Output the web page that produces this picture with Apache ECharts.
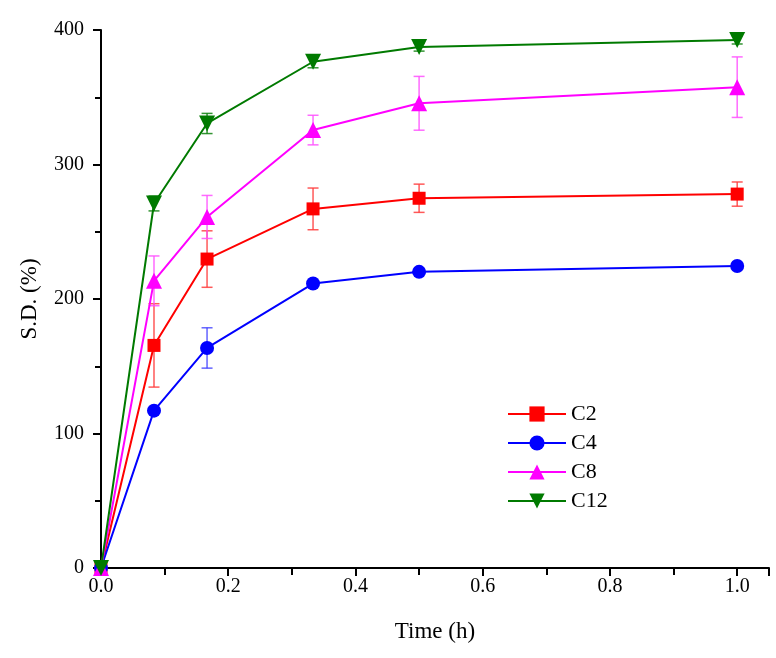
<!DOCTYPE html>
<html><head><meta charset="utf-8">
<script src="https://cdn.jsdelivr.net/npm/echarts@6/dist/echarts.min.js"></script>
<style>html,body{margin:0;padding:0;background:#fff}#c{width:776px;height:658px}</style>
</head><body><div id="c"></div>
<script>
const times = [0, 0.0833, 0.1667, 0.3333, 0.5, 1.0];
const seriesNames = ['C2', 'C4', 'C8', 'C12'];
const c2 = [0, 165.5, 229.7, 267.0, 274.9, 278.0];
const c4 = [0, 117.0, 163.6, 211.5, 220.2, 224.5];
const c8 = [0, 213.5, 261.0, 325.6, 345.5, 357.5];
const c12 = [0, 271.0, 330.5, 376.4, 387.3, 392.6];
const c2Err = [0, 31, 21, 15.5, 10.5, 9];
const c4Err = [0, 0, 15, 0, 0, 0];
const c8Err = [0, 18.5, 16, 11, 20, 22.5];
const c12Err = [0, 5.5, 7.5, 4.5, 3, 3];
const xTicks = [0, 0.2, 0.4, 0.6, 0.8, 1.0];
const yTicks = [0, 100, 200, 300, 400];

const colors = ['#ff0000', '#0000ff', '#ff00ff', '#007a00'];
const errColors = ['rgba(255,60,60,0.85)', 'rgba(60,60,255,0.8)', 'rgba(255,80,255,0.85)', 'rgba(0,122,0,0.8)'];
const symbols = ['rect', 'circle', 'triangle', 'triangle'];
const symSizes = [13, 14, 16, 16];
const rotations = [0, 0, 0, 180];
const vals = [c2, c4, c8, c12];
const errs = [c2Err, c4Err, c8Err, c12Err];
const font = '"Liberation Serif", "Times New Roman", serif';

const series = [];
vals.forEach((v, i) => {
  series.push({
    type: 'custom',
    name: seriesNames[i] + '_err',
    silent: true,
    z: 1,
    data: times.map((t, k) => [t, v[k], errs[i][k]]).filter(d => d[2] > 0),
    renderItem: function (params, api) {
      const x = api.value(0), y = api.value(1), e = api.value(2);
      const top = api.coord([x, y + e]);
      const bot = api.coord([x, y - e]);
      const w = 5.5;
      const st = { stroke: errColors[i], lineWidth: 1.5 };
      return {
        type: 'group',
        children: [
          { type: 'line', shape: { x1: top[0], y1: top[1], x2: bot[0], y2: bot[1] }, style: st },
          { type: 'line', shape: { x1: top[0] - w, y1: top[1], x2: top[0] + w, y2: top[1] }, style: st },
          { type: 'line', shape: { x1: bot[0] - w, y1: bot[1], x2: bot[0] + w, y2: bot[1] }, style: st }
        ]
      };
    }
  });
});
vals.forEach((v, i) => {
  series.push({
    type: 'line',
    name: seriesNames[i],
    data: times.map((t, k) => [t, v[k]]),
    symbol: symbols[i],
    symbolSize: symSizes[i],
    symbolRotate: rotations[i],
    z: 3,
    lineStyle: { color: colors[i], width: 2 },
    itemStyle: { color: colors[i] },
    emphasis: { disabled: true }
  });
});

const chart = echarts.init(document.getElementById('c'), null, { renderer: 'canvas' });
chart.setOption({
  animation: false,
  backgroundColor: '#fff',
  grid: { left: 101, right: 7, top: 30, bottom: 90, containLabel: false },
  legend: {
    data: seriesNames,
    orient: 'vertical',
    left: 502,
    top: 398,
    itemWidth: 58,
    itemHeight: 19,
    itemGap: 7,
    textStyle: { fontFamily: font, fontSize: 22, color: '#000' }
  },
  xAxis: {
    type: 'value',
    min: 0, max: 1.05,
    interval: 0.2,
    name: 'Time (h)',
    nameLocation: 'middle',
    nameGap: 52,
    nameTextStyle: { fontFamily: font, fontSize: 23, color: '#000' },
    axisLine: { show: true, onZero: false, lineStyle: { color: '#000', width: 2 } },
    axisTick: { show: true, length: 8, lineStyle: { color: '#000', width: 2 } },
    minorTick: { show: true, splitNumber: 2, length: 7, lineStyle: { color: '#000', width: 2 } },
    splitLine: { show: false },
    axisLabel: {
      fontFamily: font, fontSize: 20, color: '#000', margin: 9,
      formatter: v => xTicks.some(t => Math.abs(t - v) < 1e-6) ? v.toFixed(1) : ''
    }
  },
  yAxis: {
    type: 'value',
    min: 0, max: 400,
    interval: 100,
    name: 'S.D. (%)',
    nameLocation: 'middle',
    nameGap: 60,
    nameRotate: 90,
    nameTextStyle: { fontFamily: font, fontSize: 23, color: '#000' },
    axisLine: { show: true, onZero: false, lineStyle: { color: '#000', width: 2 } },
    axisTick: { show: true, length: 8, lineStyle: { color: '#000', width: 2 } },
    minorTick: { show: true, splitNumber: 2, length: 6, lineStyle: { color: '#000', width: 2 } },
    splitLine: { show: false },
    axisLabel: {
      fontFamily: font, fontSize: 20, color: '#000', margin: 17,
      formatter: v => yTicks.includes(v) ? String(v) : ''
    }
  },
  series: series
});
</script>
</body></html>
